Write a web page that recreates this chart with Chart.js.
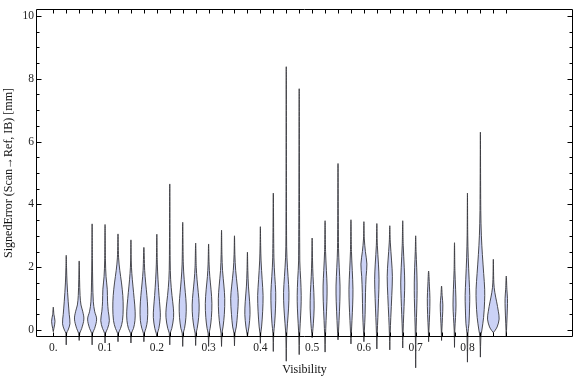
<!DOCTYPE html>
<html>
<head>
<meta charset="utf-8">
<script src="https://cdn.jsdelivr.net/npm/chart.js@4.4.1/dist/chart.umd.min.js"></script>
<style>
  html, body { margin: 0; padding: 0; background: #fff; }
  #wrap { width: 576px; height: 377px; }
</style>
</head>
<body>
<div id="wrap"><canvas id="violinChart"></canvas></div>
<script>
// one violin per visibility bin
var visibility = [0, 0.025, 0.05, 0.075, 0.1, 0.125, 0.15, 0.175, 0.2, 0.225, 0.25, 0.275,
  0.3, 0.325, 0.35, 0.375, 0.4, 0.425, 0.45, 0.475, 0.5, 0.525, 0.55, 0.575,
  0.6, 0.625, 0.65, 0.675, 0.7, 0.725, 0.75, 0.775, 0.8, 0.825, 0.85, 0.875];

var minError = [-0.05, -0.47, -0.33, -0.47, -0.41, -0.37, -0.41, -0.37, -0.21, -0.47, -0.52, -0.49,
  -0.52, -0.52, -0.5, -0.21, -0.42, -0.68, -0.99, -0.78, -0.24, -0.7, -0.31, -0.44,
  -0.37, -0.6, -0.63, -0.57, -1.2, -0.37, -0.33, -0.55, -1.02, -0.86, -0.08, -0.22];

var maxError = [0.73, 2.38, 2.2, 3.38, 3.36, 3.06, 2.87, 2.63, 3.05, 4.65, 3.43, 2.77,
  2.74, 3.18, 3.0, 2.48, 3.29, 4.36, 8.38, 7.68, 2.93, 3.48, 5.3, 3.51,
  3.45, 3.39, 3.32, 3.48, 3.0, 1.88, 1.4, 2.78, 4.36, 6.3, 2.25, 1.72];

// density knots for each violin: [signed error, relative density]
var density = [
  [[0.05, 0.6], [0.28, 1.7], [0.5, 0.6]],
  [[-0.1, 0.4], [0.0, 1.8], [0.2, 3.7], [0.5, 3.0], [0.9, 2.0], [1.5, 0.8], [2.0, 0.3]],
  [[-0.1, 0.6], [0.05, 2.5], [0.35, 4.7], [0.6, 3.5], [0.8, 1.8], [1.1, 0.9], [1.6, 0.4]],
  [[-0.1, 0.5], [0.05, 2.5], [0.35, 4.5], [0.6, 2.5], [0.9, 1.2], [1.5, 0.6], [2.2, 0.3]],
  [[-0.1, 0.5], [0.05, 2.5], [0.3, 4.3], [0.6, 3.2], [0.9, 2.5], [1.3, 2.2], [1.7, 1.0], [2.2, 0.4]],
  [[-0.1, 0.5], [0.05, 2.5], [0.3, 4.5], [0.7, 5.2], [1.1, 4.8], [1.5, 3.5], [1.9, 1.8], [2.3, 0.6]],
  [[-0.1, 0.5], [0.05, 2.5], [0.3, 4.0], [0.6, 4.2], [1.0, 3.2], [1.4, 2.0], [1.8, 0.9], [2.2, 0.3]],
  [[-0.1, 0.5], [0.05, 2.0], [0.3, 3.5], [0.7, 3.8], [1.1, 3.0], [1.5, 1.8], [1.9, 0.8]],
  [[-0.1, 0.6], [0.05, 2.0], [0.4, 3.5], [0.7, 3.2], [1.1, 2.2], [1.6, 1.2], [2.1, 0.5]],
  [[-0.1, 0.5], [0.05, 2.0], [0.4, 3.8], [0.7, 3.6], [1.1, 2.2], [1.6, 0.9], [2.2, 0.4]],
  [[-0.1, 0.5], [0.05, 1.8], [0.4, 3.2], [0.8, 3.5], [1.2, 2.6], [1.6, 1.5], [2.1, 0.6]],
  [[-0.1, 0.5], [0.05, 1.5], [0.4, 3.0], [0.8, 3.5], [1.2, 2.6], [1.6, 1.4], [2.0, 0.6]],
  [[-0.1, 0.5], [0.05, 1.5], [0.4, 2.8], [0.85, 3.3], [1.3, 2.4], [1.7, 1.2], [2.1, 0.5]],
  [[-0.1, 0.5], [0.1, 1.5], [0.5, 2.8], [1.0, 3.2], [1.4, 2.4], [1.9, 1.0], [2.4, 0.4]],
  [[-0.1, 0.5], [0.1, 1.8], [0.5, 3.0], [1.0, 3.8], [1.4, 2.8], [1.9, 1.2], [2.4, 0.4]],
  [[-0.1, 0.5], [0.1, 1.5], [0.5, 2.6], [0.9, 2.2], [1.4, 1.0], [1.9, 0.4]],
  [[-0.1, 0.4], [0.1, 1.2], [0.6, 2.3], [1.1, 2.7], [1.6, 1.8], [2.2, 0.7], [2.7, 0.3]],
  [[-0.1, 0.4], [0.2, 1.3], [0.7, 2.2], [1.2, 2.4], [1.7, 1.5], [2.3, 0.6]],
  [[-0.2, 0.4], [0.2, 1.2], [0.7, 2.3], [1.2, 2.7], [1.7, 1.8], [2.3, 0.7], [3.0, 0.3]],
  [[-0.2, 0.4], [0.2, 1.0], [0.7, 1.8], [1.1, 2.0], [1.6, 1.5], [2.2, 0.6]],
  [[-0.1, 0.4], [0.2, 1.2], [0.7, 2.0], [1.2, 1.7], [1.7, 0.9], [2.2, 0.4]],
  [[-0.2, 0.4], [0.3, 1.0], [0.9, 1.8], [1.4, 2.0], [1.9, 1.3], [2.5, 0.5]],
  [[-0.1, 0.4], [0.3, 1.0], [0.9, 1.8], [1.4, 2.0], [2.0, 1.2], [2.6, 0.5]],
  [[-0.1, 0.4], [0.3, 1.0], [0.8, 1.7], [1.3, 2.0], [1.9, 1.3], [2.5, 0.5]],
  [[0.0, 0.5], [0.5, 1.2], [1.2, 1.6], [1.7, 2.2], [2.1, 3.0], [2.5, 1.5], [2.9, 0.4]],
  [[-0.1, 0.4], [0.4, 1.0], [1.0, 1.7], [1.6, 2.2], [2.1, 1.6], [2.7, 0.5]],
  [[-0.1, 0.4], [0.4, 1.0], [1.1, 2.0], [1.7, 2.6], [2.2, 1.8], [2.8, 0.5]],
  [[-0.1, 0.3], [0.5, 1.0], [1.0, 1.6], [1.5, 2.0], [2.0, 1.5], [2.7, 0.5]],
  [[-0.2, 0.3], [0.4, 0.8], [1.0, 1.3], [1.5, 1.4], [2.0, 1.0], [2.5, 0.4]],
  [[0.0, 0.3], [0.5, 1.0], [1.0, 1.3], [1.4, 0.8]],
  [[0.0, 0.3], [0.4, 0.9], [0.8, 1.3], [1.1, 0.6]],
  [[0.0, 0.3], [0.4, 1.0], [0.8, 1.5], [1.3, 1.1], [1.9, 0.4]],
  [[-0.1, 0.5], [0.2, 1.5], [0.7, 2.1], [1.1, 2.3], [1.6, 1.7], [2.3, 0.8], [3.0, 0.3]],
  [[-0.2, 0.5], [0.0, 1.5], [0.4, 3.2], [0.9, 4.2], [1.3, 4.3], [1.8, 3.3], [2.4, 2.0], [3.0, 1.0], [3.8, 0.4]],
  [[-0.02, 1.5], [0.1, 3.8], [0.35, 5.8], [0.6, 5.0], [0.9, 3.3], [1.2, 1.5], [1.5, 0.5]],
  [[0.2, 0.5], [0.7, 1.1], [1.0, 1.2], [1.3, 0.6]]
];

var xTickValues = [0, 0.1, 0.2, 0.3, 0.4, 0.5, 0.6, 0.7, 0.8];
var yTickValues = [0, 2, 4, 6, 8, 10];
var yMinorTicks = [0.5, 1, 1.5, 2.5, 3, 3.5, 4.5, 5, 5.5, 6.5, 7, 7.5, 8.5, 9, 9.5];

var densityScale = 1 / 518; // density unit -> visibility units

function violinOutline(i) {
  var x0 = visibility[i];
  var knots = density[i];
  var pts = [{ x: x0, y: minError[i] }];
  knots.forEach(function (k) { pts.push({ x: x0 + k[1] * densityScale, y: k[0] }); });
  pts.push({ x: x0, y: maxError[i] });
  knots.slice().reverse().forEach(function (k) { pts.push({ x: x0 - k[1] * densityScale, y: k[0] }); });
  pts.push({ x: x0, y: minError[i] });
  return pts;
}

var datasets = visibility.map(function (v, i) {
  return {
    data: violinOutline(i),
    showLine: true,
    fill: 'shape',
    backgroundColor: 'rgb(203, 210, 246)',
    borderColor: 'rgba(55, 55, 60, 0.9)',
    borderWidth: 1,
    pointRadius: 0,
    tension: 0.35,
    clip: false
  };
});

// Mathematica-style frame with inward ticks
var framePlugin = {
  id: 'frame',
  afterDatasetsDraw: function (chart) {
    var c = chart.ctx, a = chart.chartArea;
    var xs = chart.scales.x, ys = chart.scales.y;
    var L = Math.round(a.left) + 0.5, R = Math.round(a.right) - 0.5;
    var T = Math.round(a.top) + 0.5, B = Math.round(a.bottom) - 0.5;
    c.save();
    c.strokeStyle = '#000';
    c.lineWidth = 1;
    c.beginPath();
    c.rect(L, T, R - L, B - T);
    visibility.forEach(function (v) {
      var px = Math.round(xs.getPixelForValue(v)) + 0.5;
      c.moveTo(px, B); c.lineTo(px, B - 4);
      c.moveTo(px, T); c.lineTo(px, T + 4);
    });
    yTickValues.forEach(function (v) {
      var py = Math.round(ys.getPixelForValue(v)) + 0.5;
      c.moveTo(L, py); c.lineTo(L + 5, py);
      c.moveTo(R, py); c.lineTo(R - 5, py);
    });
    yMinorTicks.forEach(function (v) {
      var py = Math.round(ys.getPixelForValue(v)) + 0.5;
      c.moveTo(L, py); c.lineTo(L + 3, py);
      c.moveTo(R, py); c.lineTo(R - 3, py);
    });
    c.stroke();
    c.restore();
  }
};

var serif = 'Liberation Serif';
var ctx = document.getElementById('violinChart').getContext('2d');

new Chart(ctx, {
  type: 'scatter',
  data: { datasets: datasets },
  options: {
    responsive: true,
    maintainAspectRatio: false,
    animation: false,
    layout: { padding: { top: 4, right: 3, left: 0, bottom: 0 } },
    plugins: {
      legend: { display: false },
      tooltip: { enabled: false }
    },
    scales: {
      x: {
        type: 'linear',
        min: -0.0334,
        max: 1.0039,
        afterBuildTicks: function (s) { s.ticks = xTickValues.map(function (v) { return { value: v }; }); },
        afterFit: function (s) { s.height = 40; },
        grid: { display: false, drawTicks: false },
        border: { display: false },
        ticks: {
          color: '#222',
          padding: 4,
          maxRotation: 0,
          autoSkip: false,
          font: { family: serif, size: 11.5 },
          callback: function (v) { return v === 0 ? '0.' : v.toFixed(1); }
        },
        title: {
          display: true,
          text: 'Visibility',
          color: '#111',
          font: { family: serif, size: 12 },
          padding: { top: 0, bottom: 0 }
        }
      },
      y: {
        type: 'linear',
        min: -0.22,
        max: 10.22,
        afterBuildTicks: function (s) { s.ticks = yTickValues.map(function (v) { return { value: v }; }); },
        afterFit: function (s) { s.width = 36; },
        grid: { display: false, drawTicks: false },
        border: { display: false },
        ticks: {
          color: '#222',
          padding: 2,
          font: { family: serif, size: 11.5 }
        },
        title: {
          display: true,
          text: 'SignedError (Scan\u2192Ref, IB) [mm]',
          color: '#111',
          font: { family: serif, size: 12 },
          padding: { top: 2, bottom: 0 }
        }
      }
    }
  },
  plugins: [framePlugin]
});
</script>
</body>
</html>
